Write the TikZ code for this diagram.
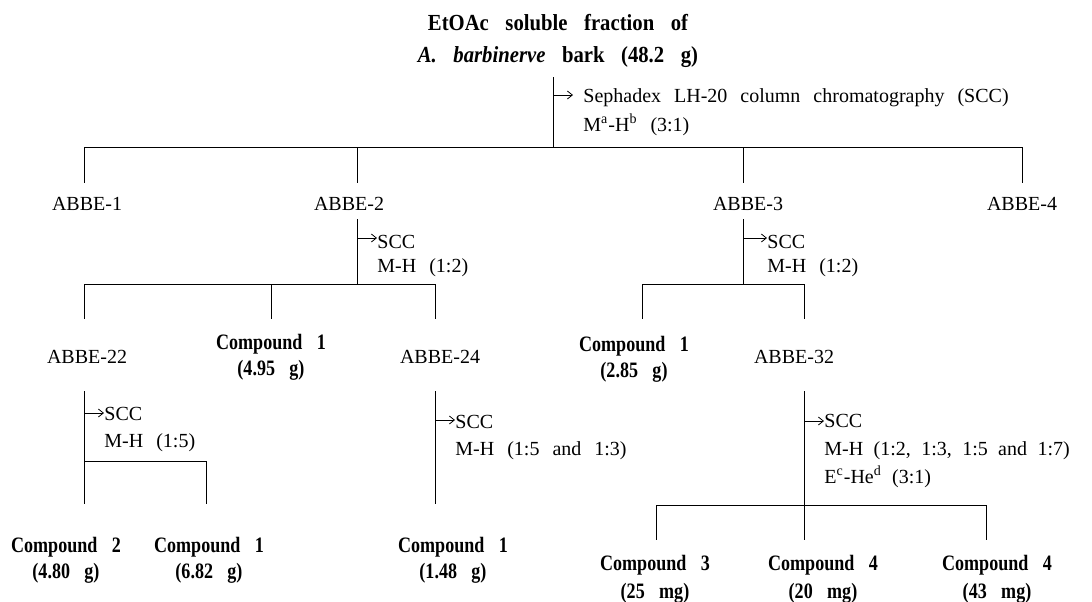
\documentclass[tikz,border=0pt]{standalone}
\usepackage{fontspec}
\setmainfont{Liberation Serif}[WordSpace=2.6]
\newfontfamily\titlefont{Liberation Serif}[FakeStretch=0.9,WordSpace=3.2]
\newfontfamily\cmpdfont{Liberation Serif}[FakeStretch=0.82,WordSpace=3.2]
\newcommand\tightsp{\spaceskip=0.52em\relax}
\usetikzlibrary{arrows.meta}

\begin{document}
\begin{tikzpicture}[x=0.5pt,y=-0.5pt,
  frac/.style={anchor=base,inner sep=0pt,font=\fontsize{10}{12}\selectfont},
  cmpd/.style={anchor=base,align=center,inner sep=0pt,font=\cmpdfont\bfseries\fontsize{11}{13}\selectfont},
  meth/.style={anchor=base west,align=left,inner sep=0pt,font=\fontsize{10}{13.5}\selectfont},
  arr/.style={-{Straight Barb[length=2.5pt,width=4pt]},line width=.4pt},
  ln/.style={line width=.5pt}
]
  \useasboundingbox (0,0) rectangle (1092,601);

  \node[anchor=base,align=center,inner sep=0pt,font=\titlefont\bfseries\fontsize{11.5}{16}\selectfont] (src) at (558,62) {EtOAc soluble fraction of\\\textit{A. barbinerve} bark (48.2 g)};

  \node[frac] (f1) at (87,210) {ABBE-1};
  \node[frac] (f2) at (349,210) {ABBE-2};
  \node[frac] (f3) at (748,210) {ABBE-3};
  \node[frac] (f4) at (1022,210) {ABBE-4};
  \node[frac] (f22) at (87,363) {ABBE-22};
  \node[frac] (f24) at (440,363) {ABBE-24};
  \node[frac] (f32) at (794,363) {ABBE-32};

  \node[cmpd] (c21) at (271,375) {Compound 1\\(4.95 g)};
  \node[cmpd] (c31) at (634,377) {Compound 1\\(2.85 g)};
  \node[cmpd] (c221) at (66,578) {Compound 2\\(4.80 g)};
  \node[cmpd] (c222) at (209,578) {Compound 1\\(6.82 g)};
  \node[cmpd] (c241) at (453,578) {Compound 1\\(1.48 g)};
  \node[cmpd,font=\cmpdfont\bfseries\fontsize{11}{14}\selectfont] (c321) at (655,598) {Compound 3\\(25 mg)};
  \node[cmpd,font=\cmpdfont\bfseries\fontsize{11}{14}\selectfont] (c322) at (823,598) {Compound 4\\(20 mg)};
  \node[cmpd,font=\cmpdfont\bfseries\fontsize{11}{14}\selectfont] (c323) at (997,598) {Compound 4\\(43 mg)};

  \node[meth,font=\fontsize{10}{14.5}\selectfont] (m0) at (583,131) {Sephadex LH-20 column chromatography (SCC)\\M\textsuperscript{a}-H\textsuperscript{b} (3:1)};
  \node[meth,font=\fontsize{10}{12}\selectfont] (m2) at (377,272) {SCC\\M-H (1:2)};
  \node[meth,font=\fontsize{10}{12}\selectfont] (m3) at (767,272) {SCC\\M-H (1:2)};
  \node[meth] (m22) at (104,447) {SCC\\M-H (1:5)};
  \node[meth] (m24) at (455,455) {SCC\\M-H (1:5 and 1:3)};
  \node[meth,font=\fontsize{10}{13.8}\selectfont\tightsp] (m32) at (824,483) {SCC\\M-H (1:2, 1:3, 1:5 and 1:7)\\E\textsuperscript{c}-He\textsuperscript{d} (3:1)};

  \coordinate (s0) at (553,77);
  \coordinate (a0) at (553,95);
  \coordinate (j0) at (553,147);
  \coordinate (d1) at (84,183);
  \coordinate (d2) at (357,183);
  \coordinate (d3) at (743,183);
  \coordinate (d4) at (1022,183);

  \coordinate (s2) at (357,219);
  \coordinate (a2) at (357,238);
  \coordinate (j2) at (357,284);
  \coordinate (d21) at (84,319);
  \coordinate (d22) at (271,319);
  \coordinate (d23) at (435,319);

  \coordinate (s3) at (743,219);
  \coordinate (a3) at (743,238);
  \coordinate (j3) at (743,284);
  \coordinate (d31) at (642,319);
  \coordinate (d32) at (804,319);

  \coordinate (s22) at (84,391);
  \coordinate (a22) at (84,413);
  \coordinate (j22) at (84,461);
  \coordinate (d221) at (84,504);
  \coordinate (d222) at (206,504);

  \coordinate (s24) at (435,391);
  \coordinate (a24) at (435,420);
  \coordinate (d241) at (435,504);

  \coordinate (s32) at (804,391);
  \coordinate (a32) at (804,421);
  \coordinate (j32) at (804,505);
  \coordinate (d321) at (656,540);
  \coordinate (d322) at (804,540);
  \coordinate (d323) at (986,540);

  \draw[ln] (s0) -- (j0);
  \foreach \d in {d1,d2,d3,d4} \draw[ln] (j0) -| (\d);
  \draw[ln] (s2) -- (j2);
  \foreach \d in {d21,d22,d23} \draw[ln] (j2) -| (\d);
  \draw[ln] (s3) -- (j3);
  \foreach \d in {d31,d32} \draw[ln] (j3) -| (\d);
  \draw[ln] (s22) -- (d221);
  \draw[ln] (j22) -| (d222);
  \draw[ln] (s24) -- (d241);
  \draw[ln] (s32) -- (j32);
  \foreach \d in {d321,d322,d323} \draw[ln] (j32) -| (\d);

  \draw[arr,shorten >=5pt] (a0) -- (a0 -| m0.west);
  \draw[arr] (a2) -- (a2 -| m2.west);
  \draw[arr] (a3) -- (a3 -| m3.west);
  \draw[arr] (a22) -- (a22 -| m22.west);
  \draw[arr] (a24) -- (a24 -| m24.west);
  \draw[arr] (a32) -- (a32 -| m32.west);
\end{tikzpicture}
\end{document}
